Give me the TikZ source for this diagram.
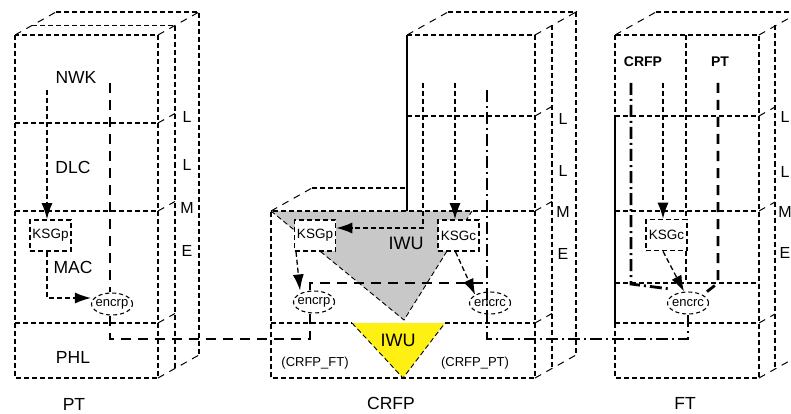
\documentclass[tikz,border=0pt]{standalone}
\usepackage{fontspec}
\setmainfont{Liberation Sans}
\usetikzlibrary{arrows.meta,shapes.geometric}
\definecolor{iwugray}{RGB}{200,200,200}
\definecolor{iwuyellow}{RGB}{255,240,20}
\begin{document}
\begin{tikzpicture}[x=1pt,y=-1pt,
  boxline/.style={line width=1.6pt,dash pattern=on 5pt off 3pt},
  depthline/.style={line width=1pt,dash pattern=on 7pt off 6pt},
  solidedge/.style={line width=1.5pt},
  thickdash/.style={line width=2.8pt,dash pattern=on 10pt off 7pt},
  dashdot/.style={line width=2.8pt,dash pattern=on 12pt off 4pt on 2pt off 4pt},
  arr/.style={line width=1.3pt,dash pattern=on 5pt off 3pt,-{Latex[length=16pt,width=11pt]}},
  trioutline/.style={line width=0.9pt,dash pattern=on 5pt off 3pt},
  ksg/.style={draw,line width=1.6pt,dash pattern=on 5pt off 3pt,fill=white,minimum width=41pt,minimum height=31pt,inner sep=0pt,font=\fontsize{13.5}{14}\selectfont},
  enc/.style={draw,ellipse,line width=1.1pt,dash pattern=on 4pt off 3pt,minimum width=41pt,minimum height=22pt,inner sep=-2pt,font=\fontsize{13}{14}\selectfont},
  lay/.style={font=\fontsize{17.5}{20}\selectfont},
  side/.style={font=\fontsize{16}{18}\selectfont},
  small/.style={font=\fontsize{13}{15}\selectfont},
  bold/.style={font=\fontsize{14}{16}\selectfont\bfseries}
]
\useasboundingbox (0,0) rectangle (791,414);
\clip (0,0) rectangle (791,414);

% ---------- IWU grey triangle (behind) ----------
\fill[iwugray] (271,211) -- (472,211) -- (404,320) -- cycle;
\draw[trioutline] (271,211) -- (404,320) -- (472,211);

% ---------- PT box ----------
\draw[boxline] (15,35) rectangle (158,378);
\draw[boxline] (15,123) -- (158,123);
\draw[boxline] (15,211) -- (158,211);
\draw[boxline] (15,323) -- (158,323);
\draw[boxline] (32,25.5) -- (175,25.5) -- (175,368.5);
\draw[boxline] (56,12) -- (199,12) -- (199,355);
\draw[depthline] (15,35) -- (56,12);
\draw[depthline] (158,35) -- (199,12);
\draw[depthline] (158,378) -- (199,355);
\draw[depthline] (158,123) -- (175,113.5);
\draw[depthline] (158,211) -- (175,201.5);
\draw[depthline] (158,323) -- (175,313.5);
\node[lay] (nwk) at (76,77) {NWK};
\node[lay] (dlc) at (73,167) {DLC};
\node[lay] (mac) at (73,267) {MAC};
\node[lay] (phl) at (73,357) {PHL};
\node[lay] (ptlab) at (74,404) {PT};
\node[side] (ptL1) at (187,117) {L};
\node[side] (ptL2) at (187,165) {L};
\node[side] (ptM) at (187,208) {M};
\node[side] (ptE) at (187,251) {E};

% ---------- CRFP box ----------
\draw[boxline] (407,35) -- (535,35) -- (535,378) -- (271,378) -- (271,211) -- (535,211);
\draw[solidedge] (407,35) -- (407,211);
\draw[boxline] (407,116) -- (535,116);
\draw[boxline] (271,323) -- (352,323);
\draw[boxline] (445,323) -- (535,323);
\draw[depthline] (271,211) -- (312,188);
\draw[boxline] (312,188) -- (407,188);
\draw[boxline] (448,12) -- (576,12) -- (576,355);
\draw[boxline] (552,25.5) -- (552,368.5);
\draw[depthline] (407,35) -- (448,12);
\draw[depthline] (535,35) -- (576,12);
\draw[depthline] (535,378) -- (576,355);
\draw[depthline] (535,116) -- (552,106.5);
\draw[depthline] (535,211) -- (552,201.5);
\draw[depthline] (535,323) -- (552,313.5);
\node[lay] (crfplab) at (391,403) {CRFP};
\node[side] (crL1) at (563,119) {L};
\node[side] (crL2) at (563,171) {L};
\node[side] (crM) at (563,212) {M};
\node[side] (crE) at (563,254) {E};

% yellow IWU triangle
\fill[iwuyellow] (352,323) -- (445,323) -- (403,378) -- cycle;
\draw[trioutline] (352,323) -- (403,378) -- (445,323);
\node[font=\fontsize{18}{20}\selectfont] (iwuy) at (398,340) {IWU};
\node[font=\fontsize{18}{20}\selectfont] (iwug) at (406,243) {IWU};
\node[small] (crft) at (315,363) {(CRFP\_FT)};
\node[small] (crpt) at (475,363) {(CRFP\_PT)};

% ---------- FT box ----------
\draw[boxline] (615,35) rectangle (759,378);
\draw[solidedge] (615,116) -- (615,323);
\draw[boxline] (615,116) -- (759,116);
\draw[boxline] (615,211) -- (759,211);
\draw[boxline] (615,283) -- (759,283);
\draw[boxline] (615,323) -- (759,323);
\draw[boxline] (686,35) -- (686,283);
\draw[boxline] (656,12) -- (800,12);
\draw[boxline] (775,25.5) -- (775,368.5);
\draw[depthline] (615,35) -- (656,12);
\draw[depthline] (759,35) -- (800,12);
\draw[depthline] (759,378) -- (800,355);
\draw[depthline] (759,116) -- (775,107);
\draw[depthline] (759,211) -- (775,202);
\draw[depthline] (759,323) -- (775,314);
\node[lay] (ftlab) at (685,403) {FT};
\node[bold] (ftcrfp) at (643,62) {CRFP};
\node[bold] (ftpt) at (720,62) {PT};
\node[side] (ftL1) at (785,117) {L};
\node[side] (ftL2) at (785,172) {L};
\node[side] (ftM) at (785,212) {M};
\node[side] (ftE) at (785,253) {E};

% ---------- functional nodes ----------
\node[ksg] (ksgP1) at (50.5,235.5) {KSGp};
\node[enc] (encP1) at (112,304) {encrp};
\node[ksg] (ksgP2) at (315,235.5) {KSGp};
\node[ksg] (ksgC2) at (458.5,235.5) {KSGc};
\node[enc] (encP2) at (314,302) {encrp};
\node[enc] (encC2) at (490,303) {encrc};
\node[ksg] (ksgC3) at (666.5,235) {KSGc};
\node[enc] (encC3) at (688,303) {encrc};

% ---------- PT connectors ----------
\coordinate (p1) at (47,90);
\coordinate (p2) at (47,298);
\draw[arr] (p1) -- (p1 |- ksgP1.north);
\draw[arr] (ksgP1.south -| p1) -- (p2) -- (p2 -| encP1.west);
\coordinate (p3) at (110,83);
\coordinate (c1) at (310,339);
\draw[thickdash] (p3) -- (p3 |- encP1.north);
\draw[thickdash] (p3 |- encP1.south) -- (p3 |- c1) -- (c1) -- (c1 |- encP2.south);

% ---------- CRFP connectors ----------
\coordinate (c2) at (423,83);
\coordinate (c2b) at (423,228);
\draw[arr] (c2) -- (c2b) -- (c2b -| ksgP2.east);
\coordinate (c3) at (455,83);
\draw[arr] (c3) -- (c3 |- ksgC2.north);
\draw[arr] ([xshift=-19pt]ksgP2.south) -- ([xshift=-14pt]encP2.north);
\draw[arr] ([xshift=-3pt]ksgC2.south) -- (encC2.north west);
\coordinate (c6) at (310,283);
\coordinate (c7) at (487,283);
\draw[thickdash] (c1 |- encP2.north) -- (c6) -- (c7);
\coordinate (c4) at (487,90);
\coordinate (c5) at (487,339);
\draw[dashdot] (c4) -- (c5) -| (encC3.south);

% ---------- FT connectors ----------
\coordinate (f1) at (663,83);
\draw[arr] (f1) -- (f1 |- ksgC3.north);
\draw[arr] (ksgC3.south -| f1) -- ([xshift=-4pt]encC3.north);
\coordinate (f2) at (631,83);
\coordinate (f3) at (631,284);
\coordinate (f4) at (670,289);
\draw[dashdot] (f2) -- (f3) -- (f4);
\coordinate (f5) at (718,83);
\coordinate (f6) at (718,283);
\draw[thickdash] (f5) -- (f6) -- (encC3.north east);
\end{tikzpicture}
\end{document}
